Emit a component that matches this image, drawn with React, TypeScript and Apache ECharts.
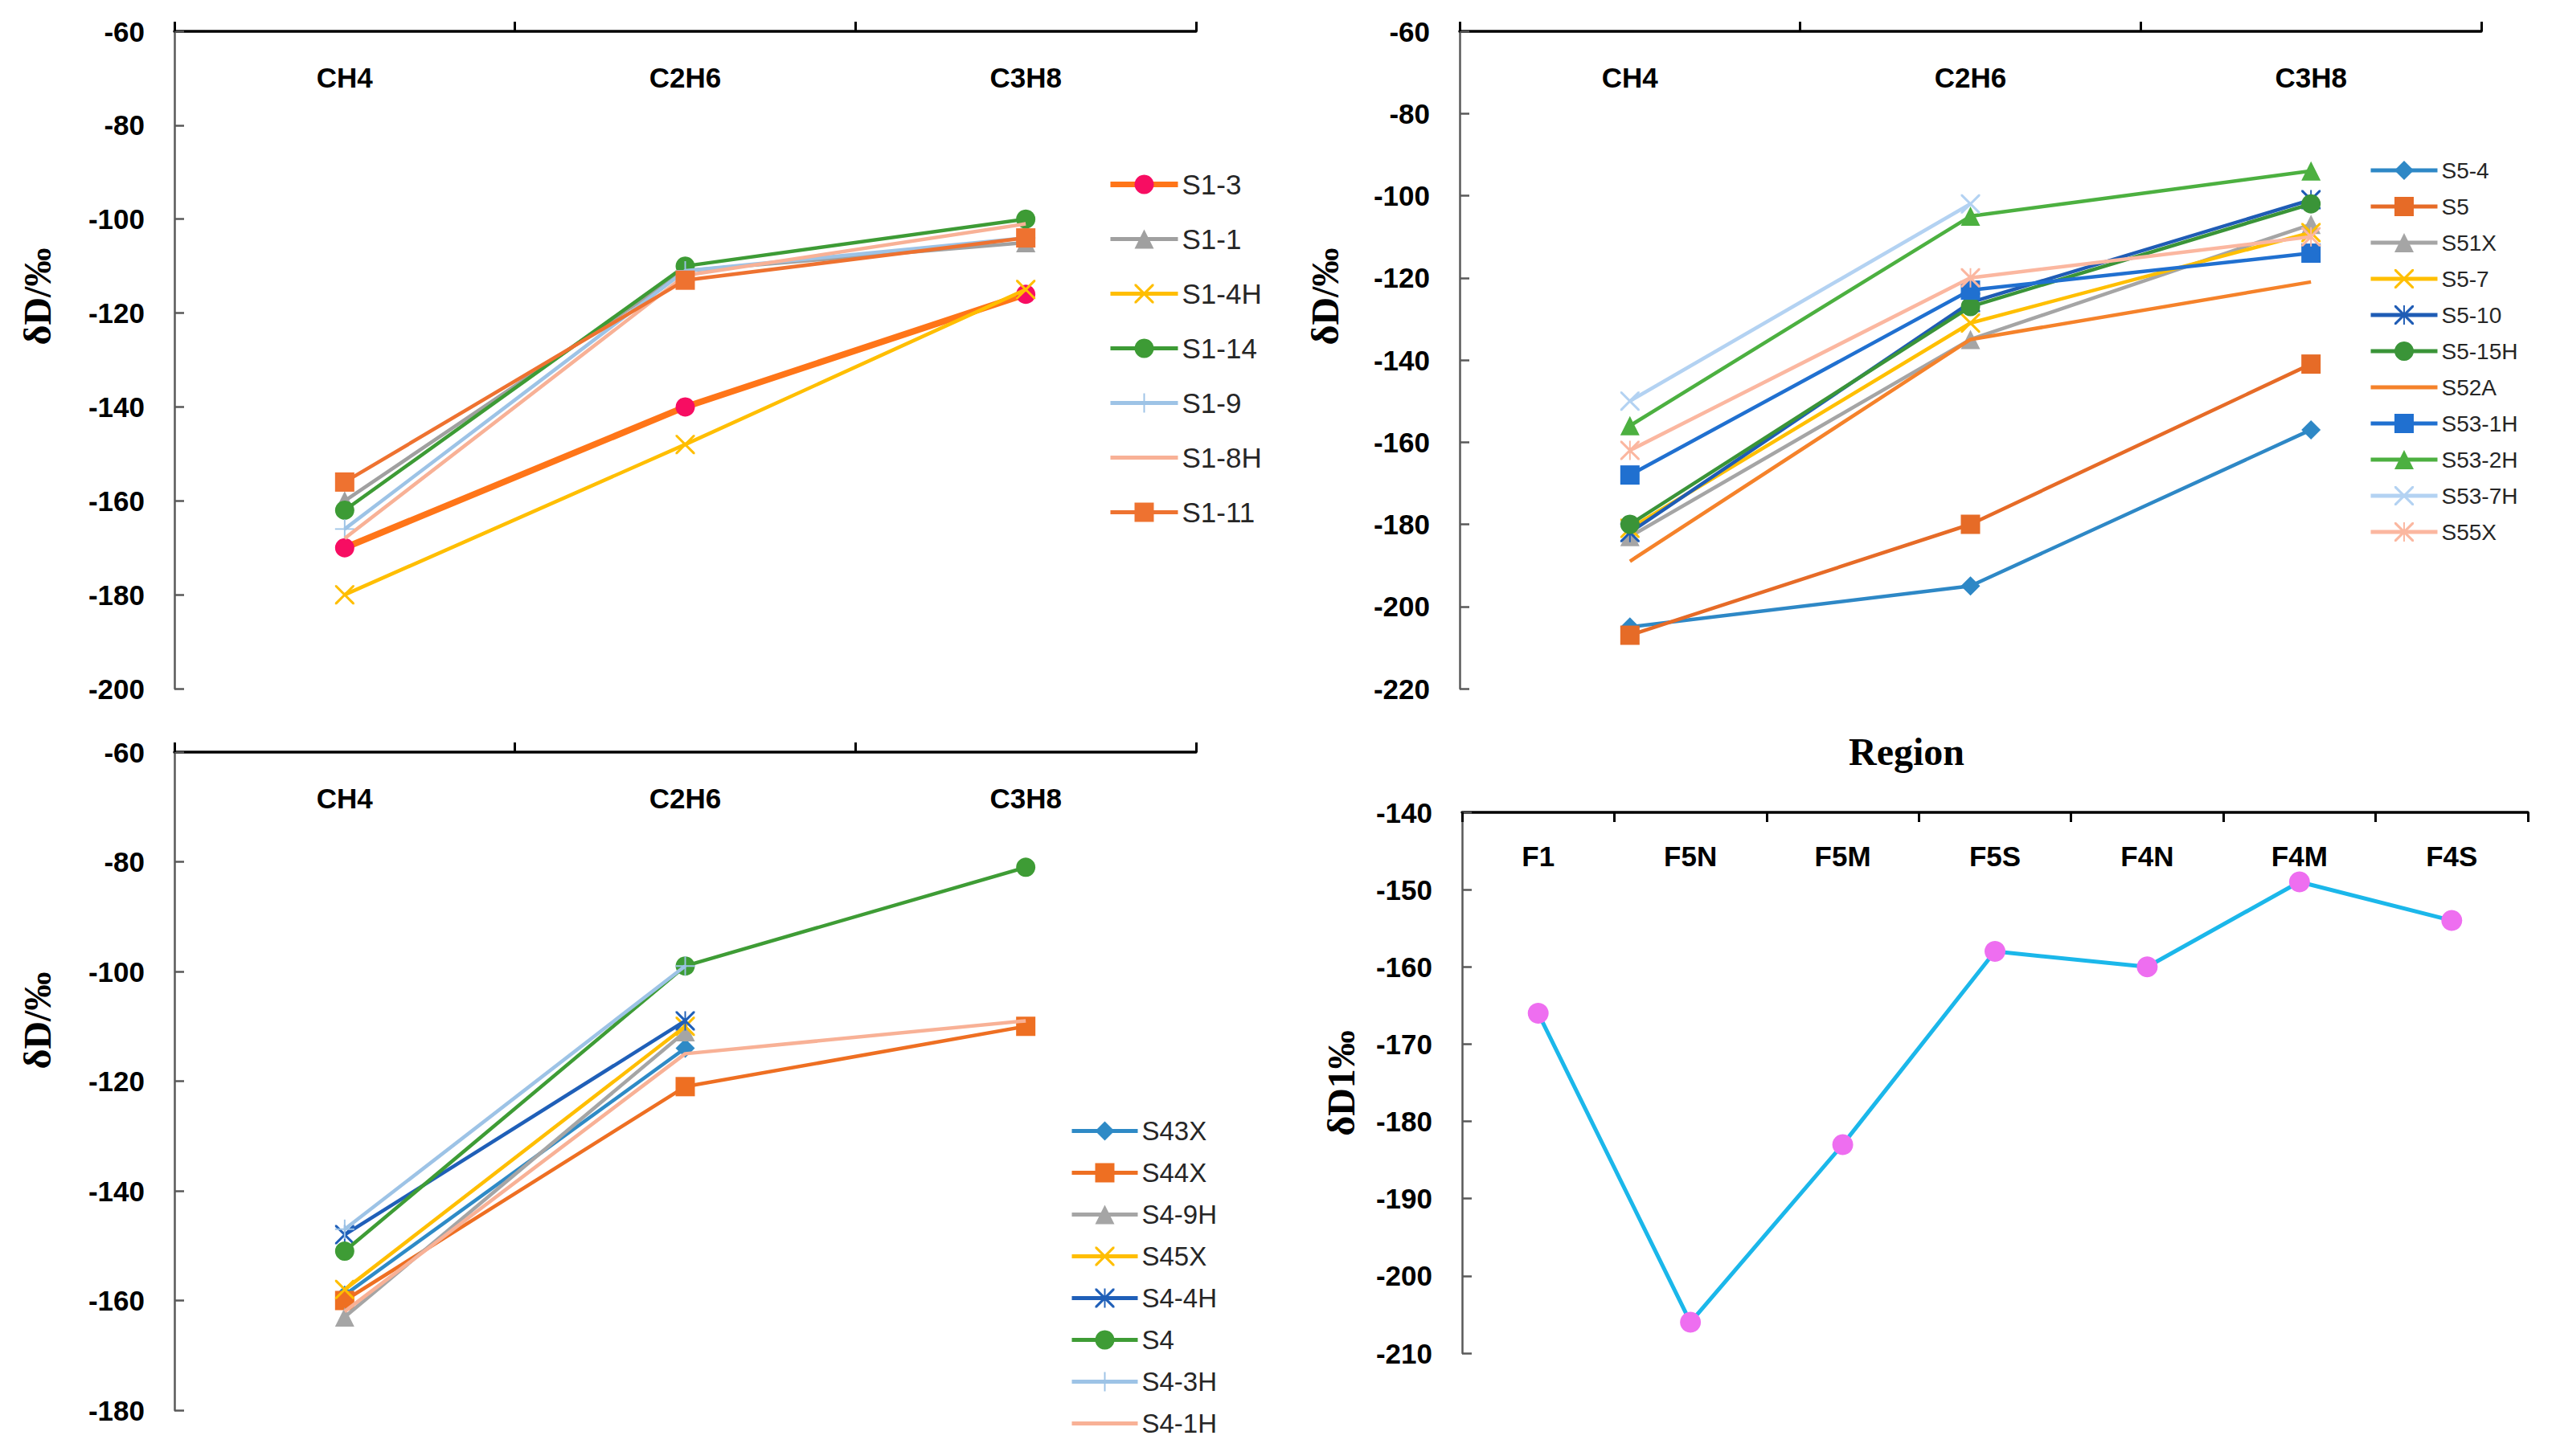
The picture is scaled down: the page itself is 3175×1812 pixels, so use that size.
import React, { useEffect, useRef } from "react";
import * as echarts from "echarts";

// ---------- data ----------
const GAS_CATEGORIES = ["CH4", "C2H6", "C3H8"];
const REGION_CATEGORIES = ["F1", "F5N", "F5M", "F5S", "F4N", "F4M", "F4S"];

// panel 1
const S1_3 = [-170, -140, -116];
const S1_1 = [-160, -111, -105];
const S1_4H = [-180, -148, -115];
const S1_14 = [-162, -110, -100];
const S1_9 = [-166, -111, -104];
const S1_8H = [-168, -112, -101];
const S1_11 = [-156, -113, -104];

// panel 2
const S5_4 = [-205, -195, -157];
const S5 = [-207, -180, -141];
const S51X = [-183, -135, -107];
const S5_7 = [-181, -131, -109];
const S5_10 = [-182, -126, -101];
const S5_15H = [-180, -127, -102];
const S52A = [-189, -135, -121];
const S53_1H = [-168, -123, -114];
const S53_2H = [-156, -105, -94];
const S53_7H = [-150, -102, null];
const S55X = [-162, -120, -110];

// panel 3
const S43X = [-159, -114, null];
const S44X = [-160, -121, -110];
const S4_9H = [-163, -111, null];
const S45X = [-158, -110, null];
const S4_4H = [-148, -109, null];
const S4 = [-151, -99, -81];
const S4_3H = [-147, -99, null];
const S4_1H = [-162, -115, -109];

// panel 4
const REGION_VALUES = [-166, -206, -183, -158, -160, -149, -154];

// y axis ranges
const Y1 = { min: -200, max: -60, interval: 20 };
const Y2 = { min: -220, max: -60, interval: 20 };
const Y3 = { min: -180, max: -60, interval: 20 };
const Y4 = { min: -210, max: -140, interval: 10 };

// ---------- styles ----------
const SYM_X =
  "path://M0,0L0.9,0L10,9.1L10,10L9.1,10L0,0.9ZM10,0L10,0.9L0.9,10L0,10L0,9.1L9.1,0Z";
const SYM_PLUS = "path://M4.6,0L5.4,0L5.4,10L4.6,10ZM0,4.6L10,4.6L10,5.4L0,5.4Z";
const SYM_STAR =
  "path://M0,0L0.9,0L10,9.1L10,10L9.1,10L0,0.9ZM10,0L10,0.9L0.9,10L0,10L0,9.1L9.1,0ZM4.6,0L5.4,0L5.4,10L4.6,10Z";

const SANS = "'Liberation Sans', Arial, sans-serif";
const SERIF = "'Liberation Serif', 'Times New Roman', serif";

type Spec = {
  name: string;
  data: (number | null)[];
  line: string;
  marker?: string;
  symbol: string;
  width?: number;
  size?: number;
};

const PANEL1: Spec[] = [
  { name: "S1-3", data: S1_3, line: "#FF7518", marker: "#F70D62", symbol: "circle", width: 8, size: 24 },
  { name: "S1-1", data: S1_1, line: "#A0A0A0", symbol: "triangle" },
  { name: "S1-4H", data: S1_4H, line: "#FFBE00", symbol: SYM_X },
  { name: "S1-14", data: S1_14, line: "#3D9B35", symbol: "circle" },
  { name: "S1-9", data: S1_9, line: "#9DC3E6", symbol: SYM_PLUS },
  { name: "S1-8H", data: S1_8H, line: "#F8B196", symbol: "none" },
  { name: "S1-11", data: S1_11, line: "#EE7230", symbol: "rect" },
];

const PANEL2: Spec[] = [
  { name: "S5-4", data: S5_4, line: "#2E88C6", symbol: "diamond" },
  { name: "S5", data: S5, line: "#E66B27", symbol: "rect" },
  { name: "S51X", data: S51X, line: "#A5A5A5", symbol: "triangle" },
  { name: "S5-7", data: S5_7, line: "#FFBF00", symbol: SYM_X },
  { name: "S5-10", data: S5_10, line: "#1F5CB5", symbol: SYM_STAR },
  { name: "S5-15H", data: S5_15H, line: "#3A9438", symbol: "circle" },
  { name: "S52A", data: S52A, line: "#F5822A", symbol: "none" },
  { name: "S53-1H", data: S53_1H, line: "#2070D0", symbol: "rect" },
  { name: "S53-2H", data: S53_2H, line: "#4CB040", symbol: "triangle" },
  { name: "S53-7H", data: S53_7H, line: "#B3D2F2", symbol: SYM_X },
  { name: "S55X", data: S55X, line: "#FBB7A0", symbol: SYM_STAR },
];

const PANEL3: Spec[] = [
  { name: "S43X", data: S43X, line: "#2E8AC6", symbol: "diamond" },
  { name: "S44X", data: S44X, line: "#EE6F22", symbol: "rect" },
  { name: "S4-9H", data: S4_9H, line: "#A5A5A5", symbol: "triangle" },
  { name: "S45X", data: S45X, line: "#FFBE00", symbol: SYM_X },
  { name: "S4-4H", data: S4_4H, line: "#1F5FB8", symbol: SYM_STAR },
  { name: "S4", data: S4, line: "#3E9C35", symbol: "circle" },
  { name: "S4-3H", data: S4_3H, line: "#9DC3E6", symbol: SYM_PLUS },
  { name: "S4-1H", data: S4_1H, line: "#F8B196", symbol: "none" },
];

function buildSeries(specs: Spec[], idx: number) {
  return specs.map((s, i) => {
    const none = s.symbol === "none";
    return {
      type: "line",
      name: s.name,
      data: s.data,
      xAxisIndex: idx,
      yAxisIndex: idx,
      symbol: none ? "none" : s.symbol,
      symbolSize: s.size ?? 24,
      showSymbol: !none,
      connectNulls: false,
      z: 2 + i * 0.01,
      lineStyle: { color: s.line, width: s.width ?? 4.5 },
      itemStyle: {
        color: none ? "rgba(0,0,0,0)" : s.marker ?? s.line,
        borderWidth: 0,
      },
      emphasis: { disabled: true },
    };
  });
}

function xAxisFor(idx: number, cats: string[], tickInside: boolean, margin: number) {
  return {
    type: "category",
    gridIndex: idx,
    position: "top",
    data: cats,
    boundaryGap: true,
    axisLine: { show: true, onZero: false, lineStyle: { color: "#000", width: 3.5 } },
    axisTick: {
      show: true,
      inside: tickInside,
      length: 12,
      alignWithLabel: false,
      lineStyle: { color: "#000", width: 3 },
    },
    axisLabel: {
      inside: true,
      margin,
      fontFamily: SANS,
      fontWeight: "bold",
      fontSize: 35,
      color: "#000",
    },
    splitLine: { show: false },
  };
}

function yAxisFor(idx: number, r: { min: number; max: number; interval: number }) {
  return {
    type: "value",
    gridIndex: idx,
    min: r.min,
    max: r.max,
    interval: r.interval,
    axisLine: { show: true, onZero: false, lineStyle: { color: "#595959", width: 2.5 } },
    axisTick: { show: true, inside: true, length: 12, lineStyle: { color: "#595959", width: 2.5 } },
    axisLabel: {
      margin: 37,
      fontFamily: SANS,
      fontWeight: "bold",
      fontSize: 35,
      color: "#000",
    },
    splitLine: { show: false },
  };
}

function legendFor(specs: Spec[], left: number, top: number, fontSize: number, gap: number, width: number) {
  return {
    show: true,
    orient: "vertical",
    left,
    top,
    padding: 0,
    itemWidth: width,
    itemHeight: 30,
    itemGap: gap,
    selectedMode: false,
    data: specs.map((s) => ({
      name: s.name,
      lineStyle: { width: s.width ? 7 : 5, color: s.line },
    })),
    textStyle: { fontFamily: SANS, fontSize, lineHeight: fontSize, color: "#262626" },
  };
}

function yName(text: string, x: number, y: number) {
  return {
    type: "text",
    x,
    y,
    rotation: Math.PI / 2,
    style: {
      text,
      font: `bold 48px ${SERIF}`,
      fill: "#000",
      textAlign: "center",
      textVerticalAlign: "middle",
    },
  };
}

export default function App() {
  const ref = useRef<HTMLDivElement>(null);

  useEffect(() => {
    if (!ref.current) return;
    const chart = echarts.init(ref.current, undefined, { renderer: "svg" });

    const option = {
      animation: false,
      backgroundColor: "#ffffff",
      grid: [
        { left: 217, top: 39, width: 1271, height: 818 },
        { left: 1816, top: 39, width: 1271, height: 818 },
        { left: 217, top: 936, width: 1271, height: 819 },
        { left: 1819, top: 1011, width: 1326, height: 673 },
      ],
      xAxis: [
        xAxisFor(0, GAS_CATEGORIES, false, 40),
        xAxisFor(1, GAS_CATEGORIES, false, 40),
        xAxisFor(2, GAS_CATEGORIES, false, 40),
        xAxisFor(3, REGION_CATEGORIES, true, 37),
      ],
      yAxis: [yAxisFor(0, Y1), yAxisFor(1, Y2), yAxisFor(2, Y3), yAxisFor(3, Y4)],
      legend: [
        legendFor(PANEL1, 1378, 212, 35, 33, 84),
        legendFor(PANEL2, 2947, 198, 28, 17, 83),
        legendFor(PANEL3, 1331, 1391, 33, 19, 82),
      ],
      graphic: [
        yName("δD/‰", 46, 369),
        yName("δD/‰", 1648, 369),
        yName("δD/‰", 46, 1270),
        yName("δD1‰", 1668, 1348),
        {
          type: "text",
          x: 2372,
          y: 935,
          style: {
            text: "Region",
            font: `bold 48px ${SERIF}`,
            fill: "#000",
            textAlign: "center",
            textVerticalAlign: "middle",
          },
        },
      ],
      series: [
        ...buildSeries(PANEL1, 0),
        ...buildSeries(PANEL2, 1),
        ...buildSeries(PANEL3, 2),
        {
          type: "line",
          name: "Region",
          data: REGION_VALUES,
          xAxisIndex: 3,
          yAxisIndex: 3,
          symbol: "circle",
          symbolSize: 26,
          lineStyle: { color: "#1BB7EA", width: 5 },
          itemStyle: { color: "#EE6EF0", borderWidth: 0 },
          emphasis: { disabled: true },
        },
      ],
    };

    chart.setOption(option as any);
    return () => chart.dispose();
  }, []);

  return (
    <div
      ref={ref}
      style={{
        position: "fixed",
        left: 0,
        top: 0,
        width: "3175px",
        height: "1812px",
        background: "#fff",
      }}
    />
  );
}
